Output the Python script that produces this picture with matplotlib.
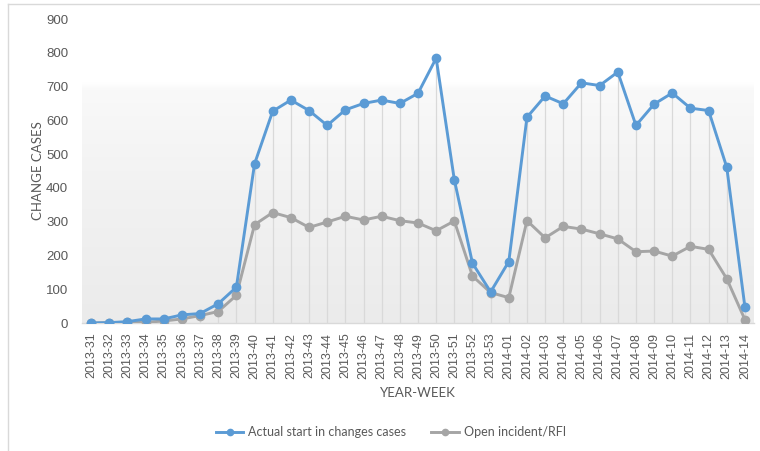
import matplotlib
matplotlib.use("Agg")
import matplotlib.pyplot as plt
import numpy as np
from matplotlib.colors import LinearSegmentedColormap
from matplotlib.lines import Line2D

weeks = (["2013-%02d" % w for w in range(31, 54)] +
         ["2014-%02d" % w for w in range(1, 15)])

actual_start = [0, 1, 4, 12, 12, 24, 28, 57, 106, 471, 627, 660, 629, 585, 631,
                650, 660, 650, 680, 784, 424, 177, 92, 182, 609, 672, 649, 711,
                703, 743, 585, 648, 681, 636, 629, 461, 47]
open_incident = [0, 1, 2, 2, 6, 12, 22, 34, 82, 291, 327, 312, 283, 299, 316,
                 305, 316, 303, 296, 273, 302, 139, 90, 75, 303, 252, 286, 278,
                 264, 249, 211, 213, 198, 227, 218, 131, 10]

blue = "#5b9bd5"
grey = "#a5a5a5"
text_col = "#595959"

fig = plt.figure(figsize=(7.6, 4.51), dpi=100)
ax = fig.add_axes([82 / 760, 128 / 451, 672 / 760, 304 / 451])

x = np.arange(len(weeks))
ax.set_xlim(-0.5, len(weeks) - 0.5)
ax.set_ylim(0, 900)

# soft vertical gradient behind the plot
cmap = LinearSegmentedColormap.from_list(
    "bg", [(0.0, "#ebebeb"), (0.5, "#f3f3f3"), (0.77, "#f9f9f9"),
           (0.79, "#ffffff"), (1.0, "#ffffff")])
grad = np.linspace(0, 1, 512).reshape(-1, 1)
ax.imshow(grad, extent=(-0.5, len(weeks) - 0.5, 0, 900), origin="lower",
          aspect="auto", cmap=cmap, zorder=0)

# drop lines up to the higher series at each week
tops = np.maximum(actual_start, open_incident)
ax.vlines(x, 0, tops, color="#d9d9d9", linewidth=0.9, zorder=1)

ax.plot(x, open_incident, color=grey, linewidth=2.1, marker="o", markersize=6,
        label="Open incident/RFI", zorder=3)
ax.plot(x, actual_start, color=blue, linewidth=2.1, marker="o", markersize=6,
        label="Actual start in changes cases", zorder=4)

for side in ["top", "right", "left"]:
    ax.spines[side].set_visible(False)
ax.spines["bottom"].set_color("#d9d9d9")
ax.spines["bottom"].set_linewidth(1)

ax.set_yticks(np.arange(0, 901, 100))
ax.set_xticks(x)
ax.set_xticklabels(weeks, rotation=90, fontsize=9, color=text_col,
                   family="Liberation Sans")
ax.tick_params(axis="x", length=0, pad=7)
ax.tick_params(axis="y", length=0, pad=10, labelsize=9.5, labelcolor=text_col)
for lab in ax.get_yticklabels():
    lab.set_family("Liberation Sans")

fig.text(38 / 760, 1 - 171 / 451, "CHANGE CASES", fontsize=9.5, color=text_col,
         family="Lato", ha="center", va="center", rotation=90)
fig.text(418 / 760, 1 - 393 / 451, "YEAR-WEEK", fontsize=9.5, color=text_col,
         family="Lato", ha="center", va="center")

handles = [Line2D([], [], color=blue, linewidth=2.1, marker="o", markersize=4.5),
           Line2D([], [], color=grey, linewidth=2.1, marker="o", markersize=4.5)]
fig.legend(handles, ["Actual start in changes cases", "Open incident/RFI"],
           loc="center", bbox_to_anchor=(391 / 760, 1 - 432 / 451), ncol=2,
           frameon=False, prop={"family": "Lato", "size": 9},
           labelcolor=text_col, handlelength=2.2, handletextpad=0.4,
           columnspacing=2.0)

# thin frame around the chart
fig.add_artist(Line2D([8 / 760, 8 / 760], [0, 1 - 4 / 451], color="#d9d9d9",
                      linewidth=1, transform=fig.transFigure))
fig.add_artist(Line2D([8 / 760, 1], [1 - 4 / 451, 1 - 4 / 451], color="#d9d9d9",
                      linewidth=1, transform=fig.transFigure))

fig.savefig("out.png", dpi=100)
